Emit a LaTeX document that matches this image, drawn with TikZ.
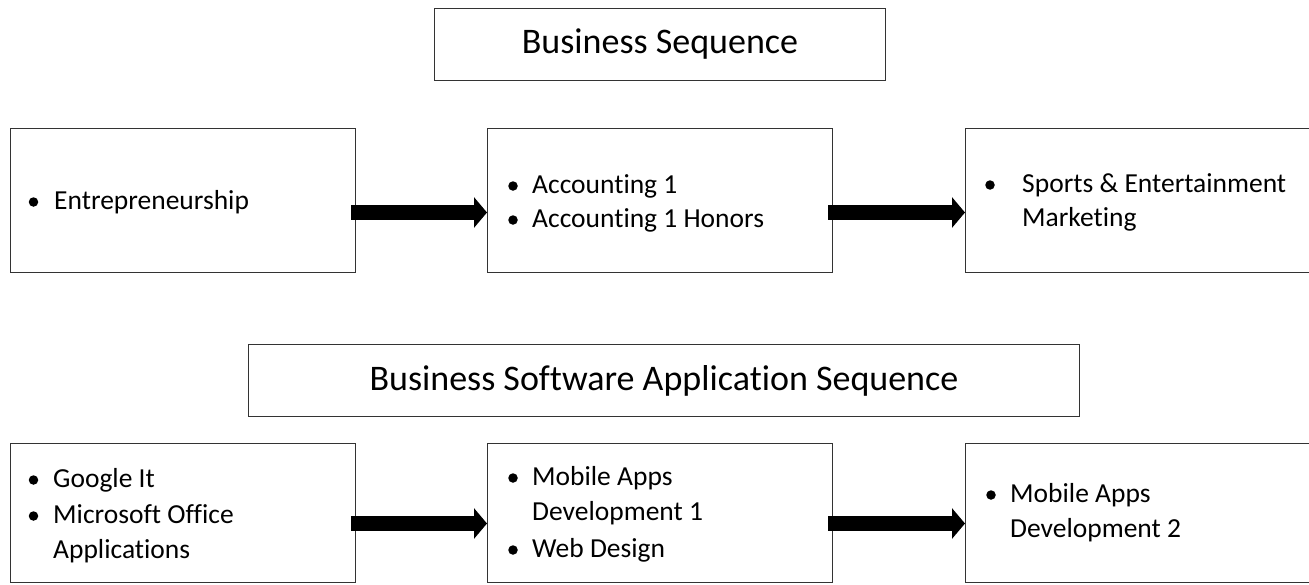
\documentclass[tikz,border=0pt]{standalone}
\usepackage{fontspec}
\setmainfont{Carlito}[Ligatures=NoCommon]
\usetikzlibrary{arrows.meta}
\begin{document}
\begin{tikzpicture}[x=1pt,y=-1pt,
  box/.style={draw=black!80, line width=1pt, rectangle, inner sep=0pt, anchor=north west},
  titlebox/.style={box, font=\fontsize{36}{44}\selectfont},
  item/.style={anchor=base west, inner sep=0pt, font=\fontsize{27.5}{34}\selectfont},
  dot/.style={circle, fill=black, inner sep=0pt, minimum size=9.5pt},
  bigarrow/.style={line width=15pt, -{Triangle[length=13pt,width=30pt]}, shorten <=-5pt}]
\useasboundingbox (0,0) rectangle (1309,584);
% titles
\node[titlebox, minimum width=451pt, minimum height=72pt] (t1) at (434,8) {Business Sequence};
\node[titlebox, minimum width=831pt, minimum height=72pt] (t2) at (248,344) {Business Software Application Sequence};
% row 1 boxes
\node[box, minimum width=345pt, minimum height=144pt] (a1) at (10,128) {};
\node[box, minimum width=345pt, minimum height=144pt] (b1) at (487,128) {};
\node[box, minimum width=350pt, minimum height=144pt] (c1) at (965,128) {};
% row 2 boxes
\node[box, minimum width=345pt, minimum height=139pt] (a2) at (10,443) {};
\node[box, minimum width=345pt, minimum height=139pt] (b2) at (487,443) {};
\node[box, minimum width=350pt, minimum height=139pt] (c2) at (965,443) {};
% row 1 text
\node[dot] (a1d1) at (33.5,202) {};
\node[item] (a1t1) at (54,209) {Entrepreneurship};
\node[dot] (b1d1) at (513,186) {};
\node[item] (b1t1) at (532,193) {Accounting 1};
\node[dot] (b1d2) at (513,220) {};
\node[item] (b1t2) at (532,227) {Accounting 1 Honors};
\node[dot] (c1d1) at (990,185) {};
\node[item] (c1t1) at (1022,192) {Sports \& Entertainment};
\node[item] (c1t2) at (1022,226) {Marketing};
% row 2 text
\node[dot] (a2d1) at (33.5,480) {};
\node[item] (a2t1) at (53,487) {Google It};
\node[dot] (a2d2) at (33.5,516) {};
\node[item] (a2t2) at (53,523) {Microsoft Office};
\node[item] (a2t3) at (53,558) {Applications};
\node[dot] (b2d1) at (513,478) {};
\node[item] (b2t1) at (532,485) {Mobile Apps};
\node[item] (b2t2) at (532,520) {Development 1};
\node[dot] (b2d2) at (513,550) {};
\node[item] (b2t3) at (532,557) {Web Design};
\node[dot] (c2d1) at (991,495) {};
\node[item] (c2t1) at (1010,502) {Mobile Apps};
\node[item] (c2t2) at (1010,537) {Development 2};
% arrows
\draw[bigarrow] ([yshift=-12pt]a1.east) -- ([yshift=-12pt]b1.west);
\draw[bigarrow] ([yshift=-12pt]b1.east) -- ([yshift=-12pt]c1.west);
\draw[bigarrow] ([yshift=-10.5pt]a2.east) -- ([yshift=-10.5pt]b2.west);
\draw[bigarrow] ([yshift=-10.5pt]b2.east) -- ([yshift=-10.5pt]c2.west);
\end{tikzpicture}
\end{document}
